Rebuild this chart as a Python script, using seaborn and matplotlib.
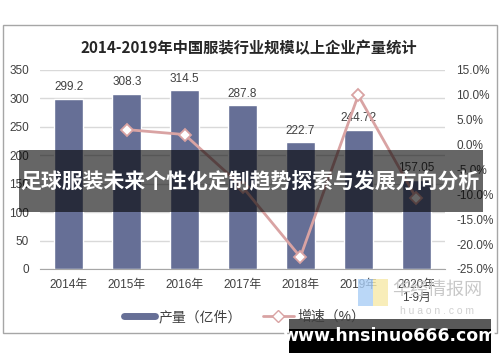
import numpy as np
import pandas as pd
import matplotlib
matplotlib.use('Agg')
import matplotlib.pyplot as plt
import seaborn as sns
from matplotlib.lines import Line2D
from matplotlib.patches import Rectangle

# data
years = ['2014年', '2015年', '2016年', '2017年', '2018年', '2019年', '2020年\n1-9月']
output = [299.2, 308.3, 314.5, 287.8, 222.7, 244.72, 157.05]
growth = [3.0, 2.0, -8.5, -22.6, 9.9, -10.7]   # from 2015 on
title = '2014-2019年中国服装行业规模以上企业产量统计'
banner = '足球服装未来个性化定制趋势探索与发展方向分析'
site = 'www.hnsinuo666.com'

bar_color = '#666F96'
line_color = '#D9A3A3'
text_color = '#404040'

sns.set_style('white')
plt.rcParams['font.family'] = ['Liberation Sans', 'Noto Sans CJK SC']

fig = plt.figure(figsize=(5, 3.62), dpi=100)
ax = fig.add_axes([0.08, 0.257, 0.81, 0.55])

df = pd.DataFrame({'year': years, 'output': output})
sns.barplot(data=df, x='year', y='output', color=bar_color, width=0.5,
            saturation=1, ax=ax, zorder=2)
ax.bar_label(ax.containers[0], labels=[f'{v:g}' for v in output],
             padding=4, fontsize=8.5, color=text_color)

ax.set_ylim(0, 350)
ax.set_yticks(np.arange(0, 351, 50))
ax.set_xlim(-0.5, len(years) - 0.5)
ax.grid(axis='y', color='#D9D9D9', lw=1, zorder=0)
ax.set_axisbelow(True)
for s in ['top', 'right', 'left']:
    ax.spines[s].set_visible(False)
ax.spines['bottom'].set_color('#A6A6A6')
ax.set_xlabel('')
ax.set_ylabel('')
ax.tick_params(axis='x', length=0, labelsize=8.5, labelcolor=text_color, pad=7)
ax.tick_params(axis='y', length=0, labelsize=8.5, labelcolor=text_color, pad=8)
ax.set_xticks(np.arange(-0.5, len(years)), minor=True)
ax.tick_params(axis='x', which='minor', length=4, color='#A6A6A6', direction='out')
for lab in ax.get_xticklabels():
    lab.set_linespacing(1.1)

ax2 = ax.twinx()
gdf = pd.DataFrame({'x': np.arange(1, len(years)), 'growth': growth})
sns.lineplot(data=gdf, x='x', y='growth', ax=ax2, color=line_color, lw=2,
             marker='D', markersize=6, markerfacecolor='white',
             markeredgecolor=line_color, markeredgewidth=1.3, zorder=3)
ax2.set_ylim(-25, 15)
ax2.set_yticks(np.arange(-25, 16, 5))
ax2.set_yticklabels([f'{v:.1f}%' for v in np.arange(-25, 16, 5)])
ax2.tick_params(axis='y', length=0, labelsize=8.5, labelcolor=text_color, pad=8)
ax2.set_ylabel('')
for s in ax2.spines.values():
    s.set_visible(False)
ax2.set_xlim(-0.5, len(years) - 0.5)

handles = [Line2D([0], [0], color=bar_color, lw=5),
           Line2D([0], [0], color=line_color, lw=2, marker='D', markersize=6,
                  markerfacecolor='white', markeredgecolor=line_color)]
fig.legend(handles, ['产量（亿件）', '增速（%）'], loc='center',
           bbox_to_anchor=(0.49, 0.124), ncol=2, frameon=False, fontsize=10,
           labelcolor=text_color, handlelength=2.2, columnspacing=1.5,
           handletextpad=0.3)

fig.text(0.497, 0.867, title, ha='center', va='center', fontsize=11,
         fontweight='bold', color='#262626', family=['Noto Sans CJK SC'])

# outer frame
fig.add_artist(Rectangle((0.006, 0.08), 0.988, 0.851, transform=fig.transFigure,
                         fill=False, ec='#A6A6A6', lw=1))

# faint source watermark
fig.add_artist(Rectangle((0.715, 0.155), 0.03, 0.075, transform=fig.transFigure,
                         color='#A9CDF5', alpha=0.8, lw=0))
fig.add_artist(Rectangle((0.745, 0.155), 0.03, 0.075, transform=fig.transFigure,
                         color='#F7E9A8', alpha=0.8, lw=0))
fig.text(0.875, 0.2, '华经情报网', ha='center', va='center',
         fontsize=13, color='#C8C8C8', family=['Noto Sans CJK SC'])
fig.text(0.875, 0.142, 'h u a o n . c o m', ha='center', va='center',
         fontsize=7.5, color='#D0D0D0')

# dark banner across the chart
fig.add_artist(Rectangle((0.038, 0.414), 0.928, 0.172, transform=fig.transFigure,
                         color='black', alpha=0.6, lw=0, zorder=5))
fig.text(0.5, 0.5, banner, ha='center', va='center', fontsize=15,
         fontweight='bold', color='white', family=['Noto Sans CJK SC'], zorder=6)

# site box bottom right
fig.add_artist(Rectangle((0.578, 0.025), 0.404, 0.094, transform=fig.transFigure,
                         color='black', alpha=0.65, lw=0, zorder=5))
fig.add_artist(Rectangle((0.578, 0.025), 0.404, 0.066, transform=fig.transFigure,
                         color='black', lw=0, zorder=5))
fig.text(0.78, 0.073, site, ha='center', va='center', fontsize=12.5,
         fontweight='bold', color='white', family=['DejaVu Sans'], zorder=6)

fig.savefig('out.png', dpi=100)
